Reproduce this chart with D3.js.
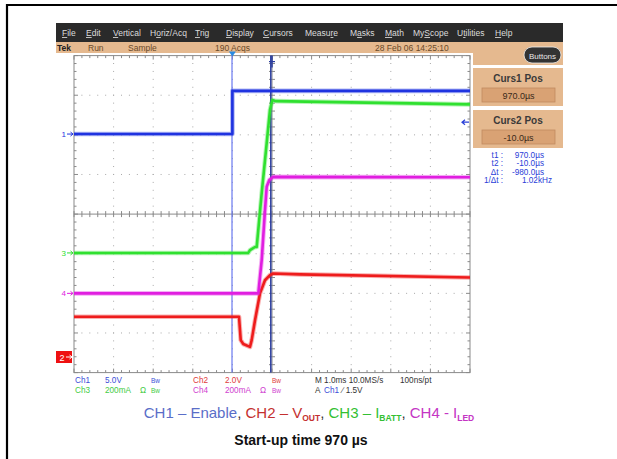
<!DOCTYPE html>
<html><head><meta charset="utf-8">
<script src="https://cdn.jsdelivr.net/npm/d3@7"></script>
<style>body{margin:0;background:#fff}svg{display:block;font-family:"Liberation Sans",Arial,sans-serif}</style>
</head><body>
<svg id="c" width="617" height="459"></svg>
<script>
// ---- data (time in ms, level in vertical divisions) ----
const ch1Time = [-4, 0, 0, 6];
const ch1Div  = [2.02, 2.02, 3.11, 3.11];
const ch2Time = [-4, 0.167, 0.21, 0.275, 0.444, 0.487, 0.571, 0.697, 0.823, 0.949, 1.033, 1.7, 6];
const ch2Div  = [-2.59, -2.59, -3.18, -3.28, -3.35, -3.18, -2.68, -2.0, -1.67, -1.54, -1.50, -1.52, -1.60];
const ch3Time = [-4, 0.40, 0.444, 0.571, 0.614, 0.740, 0.866, 0.949, 1.008, 1.10, 6];
const ch3Div  = [-0.98, -0.98, -0.91, -0.83, -0.83, 0.53, 1.79, 2.63, 2.88, 2.85, 2.77];
const ch4Time = [-4, 0.654, 0.740, 0.823, 0.866, 0.932, 1.033, 6];
const ch4Div  = [-2.0, -2.0, -1.16, 0.10, 0.69, 0.86, 0.94, 0.93];
const cursorTimes = [0.97, -0.01];
const menuItems = ["File","Edit","Vertical","Horiz/Acq","Trig","Display","Cursors","Measure","Masks","Math","MyScope","Utilities","Help"];
const menuUnderline = [0,0,0,1,0,0,0,5,1,0,2,1,0];
const readLabels = ["t1 :","t2 :","\u0394t :","1/\u0394t :"];
const readValues = ["970.0\u00b5s","-10.0\u00b5s","-980.0\u00b5s","1.02kHz"];

const svg = d3.select("#c");
const x = d3.scaleLinear().domain([-4, 6]).range([74, 470]);
const y = d3.scaleLinear().domain([-4, 4]).range([372.6, 55.6]);
const C = {ch1:"#1f33e0", ch2:"#ee1c1c", ch3:"#2fe02f", ch4:"#e01ee0"};

// outer frame
svg.append("line").attr("x1",6).attr("x2",617).attr("y1",5).attr("y2",5).attr("stroke","#000").attr("stroke-width",2.2);
svg.append("line").attr("x1",7).attr("x2",7).attr("y1",4).attr("y2",459).attr("stroke","#000").attr("stroke-width",2.2);

// menu bar
svg.append("rect").attr("x",56).attr("y",23).attr("width",507).attr("height",19).attr("fill","#2a2a2a");
const menuX = [62,86,113,150,195,226,263,305,350,385,413,457,495];
menuItems.forEach((m,i)=>{
  const t = svg.append("text").attr("x",menuX[i]).attr("y",36).attr("font-size",8.5).attr("fill","#dcdcdc");
  const u = menuUnderline[i];
  if(u>0) t.append("tspan").text(m.slice(0,u));
  t.append("tspan").attr("text-decoration","underline").text(m.charAt(u));
  t.append("tspan").text(m.slice(u+1));
});
// status bar
svg.append("rect").attr("x",56).attr("y",42).attr("width",507).attr("height",11).attr("fill","#e5b98f");
svg.append("rect").attr("x",473).attr("y",53).attr("width",90).attr("height",12).attr("fill","#e5b98f");
const stat = [["Tek",57,"#222","bold"],["Run",88,"#6a4a2a","normal"],["Sample",128,"#6a4a2a","normal"],["190 Acqs",215,"#6a4a2a","normal"],["28 Feb 06 14:25:10",375,"#6a4a2a","normal"]];
stat.forEach(s=>svg.append("text").attr("x",s[1]).attr("y",51).attr("font-size",8.5).attr("fill",s[2]).attr("font-weight",s[3]).text(s[0]));
// Buttons pill
svg.append("rect").attr("x",524).attr("y",47).attr("width",37).attr("height",16).attr("rx",8).attr("fill","#333").attr("stroke","#eee").attr("stroke-width",0.8);
svg.append("text").attr("x",542.5).attr("y",58.5).attr("text-anchor","middle").attr("font-size",8).attr("fill","#e8e8e8").text("Buttons");

// side panels
[["Curs1 Pos","970.0\u00b5s",68],["Curs2 Pos","-10.0\u00b5s",110]].forEach(p=>{
  svg.append("rect").attr("x",473).attr("y",p[2]).attr("width",90).attr("height",38).attr("fill","#e5b98f");
  svg.append("text").attr("x",518).attr("y",p[2]+14).attr("text-anchor","middle").attr("font-size",10).attr("font-weight","bold").attr("fill","#3a3a3a").text(p[0]);
  svg.append("rect").attr("x",482).attr("y",p[2]+20).attr("width",73).attr("height",14).attr("fill","#d9a274").attr("stroke","#c08a60").attr("stroke-width",0.8);
  svg.append("text").attr("x",518.5).attr("y",p[2]+30.5).attr("text-anchor","middle").attr("font-size",9).attr("fill","#3a2a1a").text(p[1]);
});
readLabels.forEach((l,i)=>{
  svg.append("text").attr("x",503).attr("y",158+i*8.4).attr("text-anchor","end").attr("font-size",8.2).attr("fill","#2a40d8").text(l);
  svg.append("text").attr("x",i===3?552:544).attr("y",158+i*8.4).attr("text-anchor","end").attr("font-size",8.2).attr("fill","#2a40d8").text(readValues[i]);
});

// graticule
const g = svg.append("g");
const grid = "#a8a8a8";
d3.range(-3,6).filter(t=>t!==1).forEach(t=>{
  g.append("line").attr("x1",x(t)).attr("x2",x(t)).attr("y1",y(4)).attr("y2",y(-4)).attr("stroke",grid).attr("stroke-width",1).attr("stroke-dasharray","1,6.925").attr("stroke-dashoffset",-7.4);
});
d3.range(-3,4).filter(v=>v!==0).forEach(v=>{
  g.append("line").attr("x1",x(-4)).attr("x2",x(6)).attr("y1",y(v)).attr("y2",y(v)).attr("stroke",grid).attr("stroke-width",1).attr("stroke-dasharray","1,6.92").attr("stroke-dashoffset",-7.4);
});
const axc = "#8a8a8a";
g.append("rect").attr("x",x(-4)).attr("y",y(4)).attr("width",x(6)-x(-4)).attr("height",y(-4)-y(4)).attr("fill","none").attr("stroke",axc).attr("stroke-width",1);
g.append("line").attr("x1",x(-4)).attr("x2",x(6)).attr("y1",y(0)).attr("y2",y(0)).attr("stroke",axc);
g.append("line").attr("x1",x(1)).attr("x2",x(1)).attr("y1",y(4)).attr("y2",y(-4)).attr("stroke",axc);
const tx = d3.range(-4,6.001,0.2), ty = d3.range(-4,4.001,0.2);
tx.forEach(t=>{
  const major = Math.abs(t-Math.round(t))<1e-6;
  const L = major?4:2.5;
  g.append("line").attr("x1",x(t)).attr("x2",x(t)).attr("y1",y(4)).attr("y2",y(4)+L).attr("stroke",axc);
  g.append("line").attr("x1",x(t)).attr("x2",x(t)).attr("y1",y(-4)).attr("y2",y(-4)-L).attr("stroke",axc);
  g.append("line").attr("x1",x(t)).attr("x2",x(t)).attr("y1",y(0)-3).attr("y2",y(0)+3).attr("stroke",axc);
});
ty.forEach(v=>{
  const major = Math.abs(v-Math.round(v))<1e-6;
  const L = major?4:2.5;
  g.append("line").attr("x1",x(-4)).attr("x2",x(-4)+L).attr("y1",y(v)).attr("y2",y(v)).attr("stroke",axc);
  g.append("line").attr("x1",x(6)).attr("x2",x(6)-L).attr("y1",y(v)).attr("y2",y(v)).attr("stroke",axc);
  g.append("line").attr("x1",x(1)-3).attr("x2",x(1)+3).attr("y1",y(v)).attr("y2",y(v)).attr("stroke",axc);
});

// cursors
g.append("line").attr("x1",x(cursorTimes[1])).attr("x2",x(cursorTimes[1])).attr("y1",y(4)-3).attr("y2",y(-4)).attr("stroke","#6878f0").attr("stroke-width",1.2);
g.append("line").attr("x1",x(cursorTimes[0])).attr("x2",x(cursorTimes[0])).attr("y1",y(4)).attr("y2",y(-4)).attr("stroke","#2a3c9e").attr("stroke-width",1.5);
g.append("path").attr("d",`M${x(0)-3.5},${y(4)-4}h7l-3.5,5z`).attr("fill","#2a8ae0");
g.append("line").attr("x1",x(1)).attr("x2",x(1)).attr("y1",y(4)).attr("y2",y(4)+12).attr("stroke","#2a3c9e").attr("stroke-width",1.5);
g.append("line").attr("x1",x(1)-3).attr("x2",x(1)+3).attr("y1",y(4)+6).attr("y2",y(4)+6).attr("stroke","#2a3c9e").attr("stroke-width",1.2);

// traces (soft noisy band under a solid core)
const line = d3.line().x(d=>x(d[0])).y(d=>y(d[1]));
const traces = [[ch1Time,ch1Div,C.ch1],[ch2Time,ch2Div,C.ch2],[ch4Time,ch4Div,C.ch4],[ch3Time,ch3Div,C.ch3]];
traces.forEach(tr=>{
  const pts = tr[0].map((t,i)=>[t,tr[1][i]]);
  g.append("path").attr("d",line(pts)).attr("fill","none").attr("stroke",tr[2]).attr("stroke-opacity",0.35).attr("stroke-width",4.6).attr("stroke-linejoin","round");
  g.append("path").attr("d",line(pts)).attr("fill","none").attr("stroke",tr[2]).attr("stroke-width",2.6).attr("stroke-linejoin","round");
});

// channel markers
function marker(lbl, lvl, col){
  const yy = y(lvl);
  svg.append("text").attr("x",66).attr("y",yy+3).attr("text-anchor","end").attr("font-size",8).attr("fill",col).text(lbl);
  svg.append("path").attr("d",`M67,${yy}H73M70.5,${yy-2}L73,${yy}L70.5,${yy+2}`).attr("stroke",col).attr("fill","none").attr("stroke-width",1);
}
marker("1", ch1Div[0], C.ch1);
marker("3", ch3Div[0], C.ch3);
marker("4", ch4Div[0], C.ch4);
svg.append("rect").attr("x",56).attr("y",351).attr("width",16).attr("height",12).attr("fill","#ee1111");
svg.append("text").attr("x",62).attr("y",360.5).attr("text-anchor","middle").attr("font-size",9).attr("fill","#fff").text("2");
svg.append("path").attr("d","M66,357H72M69.5,355L72,357L69.5,359").attr("stroke","#fff").attr("fill","none");
svg.append("path").attr("d",`M462,${y(2.32)}H469M465,${y(2.32)-2.5}L462,${y(2.32)}L465,${y(2.32)+2.5}`).attr("stroke","#2a40d8").attr("fill","none").attr("stroke-width",1.2);

// info rows
const info = [
  ["Ch1",75,383,"#3a4ed8"],["5.0V",105,383,"#3a4ed8"],["Bw",151,383,"#3a4ed8"],
  ["Ch2",193,383,"#e03a3a"],["2.0V",225,383,"#e03a3a"],["Bw",272,383,"#e03a3a"],
  ["M 1.0ms 10.0MS/s",315,383,"#333"],["100ns/pt",400,383,"#333"],
  ["Ch3",75,392.5,"#44cc44"],["200mA",105,392.5,"#44cc44"],["\u03a9",140,392.5,"#44cc44"],["Bw",151,392.5,"#44cc44"],
  ["Ch4",193,392.5,"#d040d0"],["200mA",225,392.5,"#d040d0"],["\u03a9",260,392.5,"#d040d0"],["Bw",272,392.5,"#d040d0"],
  ["A",315,392.5,"#333"],["Ch1",324,392.5,"#3a4ed8"],["\u2215  1.5V",342,392.5,"#333"]
];
info.forEach(d=>svg.append("text").attr("x",d[1]).attr("y",d[2]).attr("font-size",d[0]==="Bw"?6.5:8.2).attr("fill",d[3]).text(d[0]));

// caption
const cap = svg.append("text").attr("x",309).attr("y",418).attr("text-anchor","middle").attr("font-size",15);
const parts = [["CH1 \u2013 Enable","#5a6ec8",0],[", ","#333",0],["CH2 \u2013 V","#c43030",0],["OUT","#c43030",1],[", ","#333",0],
  ["CH3 \u2013 I","#33c033",0],["BATT","#33c033",1],[", ","#333",0],["CH4 - I","#c435c4",0],["LED","#c435c4",1]];
parts.forEach((p,i)=>{
  const ts = cap.append("tspan").attr("fill",p[1]).text(p[0]);
  const prevSub = i>0 && parts[i-1][2]===1;
  if(p[2]) ts.attr("font-size",8.5).attr("font-weight","bold").attr("dy",2.5);
  else if(prevSub) ts.attr("dy",-2.5);
});
svg.append("text").attr("x",301).attr("y",445).attr("text-anchor","middle").attr("font-size",14).attr("font-weight","bold").attr("fill","#111").text("Start-up time 970 \u00b5s");
</script>
</body></html>
